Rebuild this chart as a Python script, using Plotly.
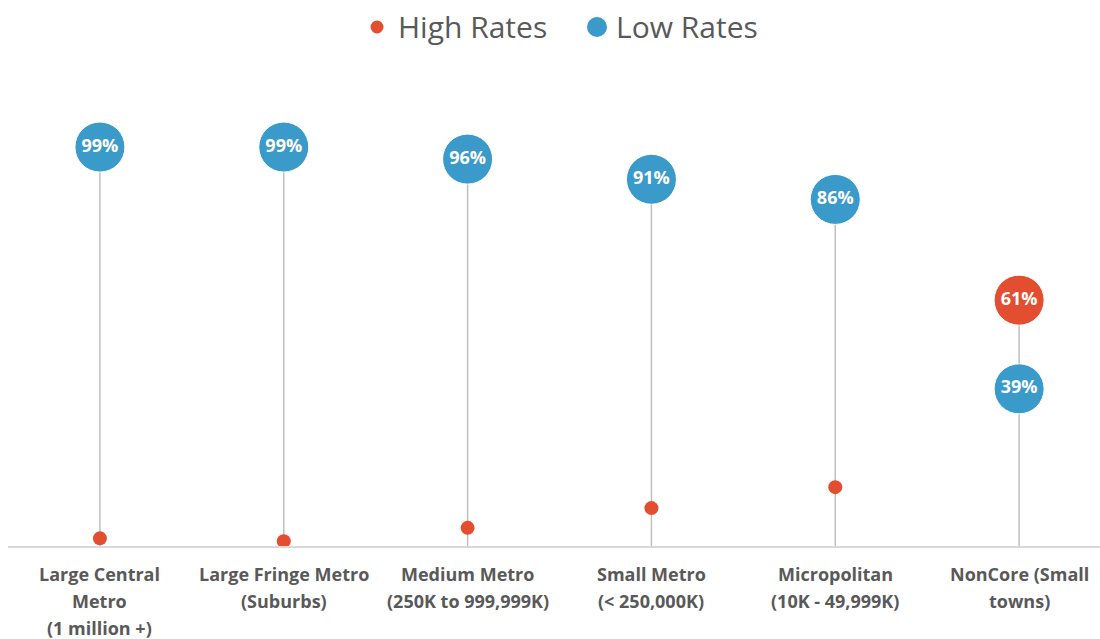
import plotly.graph_objects as go

categories = ["Large Central Metro (1 million +)", "Large Fringe Metro (Suburbs)",
              "Medium Metro (250K to 999,999K)", "Small Metro (< 250,000K)",
              "Micropolitan (10K - 49,999K)", "NonCore (Small towns)"]
tick_lines = [["Large Central", "Metro", "(1 million +)"],
              ["Large Fringe Metro", "(Suburbs)"],
              ["Medium Metro", "(250K to 999,999K)"],
              ["Small Metro", "(< 250,000K)"],
              ["Micropolitan", "(10K - 49,999K)"],
              ["NonCore (Small", "towns)"]]
high_rates = [1.9, 1.2, 4.5, 9.4, 14.6, 61]
low_rates = [99, 99, 96, 91, 86, 39]
high_labeled = [False, False, False, False, False, True]

RED = "#E24E2F"
BLUE = "#3A9BCB"
GRAY_TXT = "#595959"
FONT = "Open Sans"

xs = list(range(len(categories)))

fig = go.Figure()

# stems
lx, ly = [], []
for i, (h, l) in enumerate(zip(high_rates, low_rates)):
    lx += [i, i, None]
    ly += [0, max(h, l), None]
fig.add_trace(go.Scatter(x=lx, y=ly, mode="lines", line=dict(color="#BFBFBF", width=1.5),
                         hoverinfo="skip", showlegend=False, cliponaxis=False))

# low rates
fig.add_trace(go.Scatter(
    x=xs, y=low_rates, mode="markers+text", name="Low Rates",
    marker=dict(size=50, color=BLUE, opacity=1, line=dict(color="white", width=1)),
    text=[f"{v}%" for v in low_rates], textposition="middle center",
    textfont=dict(color="white", size=18, family=FONT, weight="bold"),
    showlegend=False, cliponaxis=False))

# high rates
sizes = [50 if lab else 14 for lab in high_labeled]
texts = [f"{v:g}%" if lab else "" for v, lab in zip(high_rates, high_labeled)]
fig.add_trace(go.Scatter(
    x=xs, y=high_rates, mode="markers+text", name="High Rates",
    marker=dict(size=sizes, color=RED, opacity=1,
                line=dict(color="white", width=[1 if l else 0 for l in high_labeled])),
    text=texts, textposition="middle center",
    textfont=dict(color="white", size=18, family=FONT, weight="bold"),
    showlegend=False, cliponaxis=False))

# category labels
annotations = []
for i, lines in enumerate(tick_lines):
    for j, t in enumerate(lines):
        annotations.append(dict(x=i, y=0, xref="x", yref="paper", text=t, showarrow=False,
                                yshift=-28 - 27 * j, yanchor="middle", xanchor="center",
                                font=dict(family=FONT, size=18, color=GRAY_TXT, weight="bold")))

# manual legend
W, H0 = 1092.0, 403.0
def px2paper(px, py):
    return (px - 8) / W, (546 - py) / H0

legend_items = [("High Rates", RED, 13, 377, 396), ("Low Rates", BLUE, 20, 597, 614)]
shapes = []
for name, col, d, cx, tx in legend_items:
    ax, ay = px2paper(cx, 27)
    shapes.append(dict(type="circle", xref="paper", yref="paper", xsizemode="pixel", ysizemode="pixel",
                       xanchor=ax, yanchor=ay, x0=-d / 2, x1=d / 2, y0=-d / 2, y1=d / 2,
                       fillcolor=col, line=dict(width=0)))
    tpx, tpy = px2paper(tx, 26)
    annotations.append(dict(x=tpx, y=tpy, xref="paper", yref="paper", text=name, showarrow=False,
                            xanchor="left", yanchor="middle",
                            font=dict(family=FONT, size=30, color=GRAY_TXT)))

fig.update_layout(
    width=1100, height=639,
    margin=dict(l=8, r=0, t=143, b=93),
    plot_bgcolor="white", paper_bgcolor="white",
    xaxis=dict(range=[-0.5, 5.44], showgrid=False, zeroline=False, showticklabels=False,
               showline=True, linecolor="#D9D9D9", linewidth=1.5, fixedrange=True),
    yaxis=dict(range=[0, 100], showgrid=False, zeroline=False, showticklabels=False,
               showline=False, fixedrange=True),
    annotations=annotations, shapes=shapes, showlegend=False,
)

fig.write_html("out.html")
